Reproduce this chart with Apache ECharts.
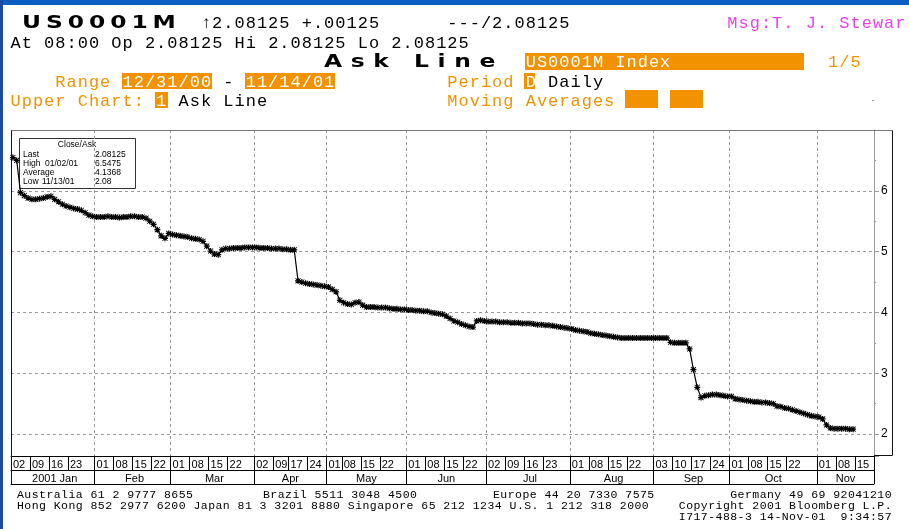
<!DOCTYPE html>
<html><head><meta charset="utf-8">
<script src="https://cdn.jsdelivr.net/npm/echarts@6/dist/echarts.min.js"></script>
<style>
html,body{margin:0;padding:0;background:#fff;}
#wrap{position:relative;width:909px;height:529px;overflow:hidden;background:#fff;}
#chart{position:absolute;left:0;top:0;width:909px;height:529px;}
.t{position:absolute;white-space:pre;font-family:'Liberation Mono',monospace;font-size:17px;letter-spacing:1px;line-height:18px;color:#000;}
.h{position:absolute;white-space:pre;font-family:'DejaVu Sans',sans-serif;font-weight:bold;font-size:18px;line-height:20px;color:#000;transform:scaleX(1.3);transform-origin:0 0;}
.b{position:absolute;background:#F39200;}
.f{position:absolute;white-space:pre;font-family:'Liberation Mono',monospace;font-size:11.5px;letter-spacing:0.45px;line-height:12px;color:#000;}
</style></head>
<body><div id="wrap"><div id="chart"></div></div>
<script>
// ---- calendar (London business days) ----
const firstDay = '2001-01-02';
const lastDay = '2001-11-21';
const holidays = ['2001-04-13','2001-04-16','2001-05-07','2001-05-28','2001-08-27'];
// ---- tick labels ----
const weekTicks = ['01/02/01','01/09/01','01/16/01','01/23/01',
  '02/01/01','02/08/01','02/15/01','02/22/01',
  '03/01/01','03/08/01','03/15/01','03/22/01',
  '04/02/01','04/09/01','04/17/01','04/24/01',
  '05/01/01','05/08/01','05/15/01','05/22/01',
  '06/01/01','06/08/01','06/15/01','06/22/01',
  '07/02/01','07/09/01','07/16/01','07/23/01',
  '08/01/01','08/08/01','08/15/01','08/22/01',
  '09/03/01','09/10/01','09/17/01','09/24/01',
  '10/01/01','10/08/01','10/15/01','10/22/01',
  '11/01/01','11/08/01','11/15/01'];
const monthNames = ['2001 Jan','Feb','Mar','Apr','May','Jun','Jul','Aug','Sep','Oct','Nov'];
const yLabels = [2,3,4,5,6];
// ---- series values (daily ask) ----
const askJan = [6.5475,6.50,5.97,5.92,5.88,5.86,5.86,5.87,5.88,5.90,5.91,5.86,5.82,5.78,5.75,5.73,5.71,5.70,5.68,5.64,5.60,5.58];
const askFeb = [5.57,5.57,5.57,5.58,5.57,5.57,5.56,5.57,5.57,5.58,5.58,5.57,5.57,5.55,5.50,5.45,5.36,5.26,5.22,5.30];
const askMar = [5.28,5.27,5.26,5.25,5.24,5.22,5.21,5.20,5.17,5.09,5.01,4.96,4.95,5.03,5.05,5.05,5.06,5.06,5.06,5.07,5.07,5.07];
const askApr = [5.07,5.06,5.06,5.06,5.05,5.05,5.05,5.04,5.04,5.03,5.03,4.52,4.50,4.48,4.47,4.46,4.45,4.44,4.43];
const askMay = [4.42,4.38,4.34,4.20,4.16,4.14,4.13,4.16,4.17,4.12,4.09,4.09,4.09,4.08,4.08,4.08,4.07,4.06,4.06,4.05,4.05];
const askJun = [4.04,4.04,4.03,4.03,4.02,4.02,4.00,3.99,3.98,3.97,3.94,3.90,3.86,3.84,3.81,3.79,3.77,3.76,3.86,3.87,3.86];
const askJul = [3.85,3.85,3.85,3.84,3.84,3.84,3.83,3.83,3.83,3.82,3.82,3.82,3.81,3.80,3.80,3.79,3.79,3.78,3.77,3.76,3.75,3.74];
const askAug = [3.73,3.71,3.70,3.69,3.68,3.66,3.65,3.64,3.63,3.62,3.61,3.60,3.59,3.58,3.58,3.58,3.58,3.58,3.58,3.58,3.58,3.58];
const askSep = [3.58,3.58,3.58,3.58,3.51,3.50,3.50,3.50,3.50,3.40,3.06,2.77,2.60,2.63,2.64,2.65,2.65,2.64,2.63,2.62];
const askOct = [2.62,2.58,2.57,2.56,2.55,2.54,2.53,2.53,2.52,2.52,2.51,2.50,2.46,2.45,2.43,2.42,2.40,2.38,2.36,2.34,2.32,2.30,2.29];
const askNov = [2.28,2.25,2.15,2.10,2.09,2.09,2.09,2.09,2.08,2.08125];
const askLine = [].concat(askJan,askFeb,askMar,askApr,askMay,askJun,askJul,askAug,askSep,askOct,askNov);

// build categories
function pad(n){return (n<10?'0':'')+n;}
const cats = [];
{
  let d = new Date(firstDay+'T00:00:00Z');
  const end = new Date(lastDay+'T00:00:00Z');
  while (d <= end) {
    const dow = d.getUTCDay();
    const iso = d.toISOString().slice(0,10);
    if (dow !== 0 && dow !== 6 && holidays.indexOf(iso) < 0) {
      cats.push(pad(d.getUTCMonth()+1)+'/'+pad(d.getUTCDate())+'/'+String(d.getUTCFullYear()).slice(2));
    }
    d = new Date(d.getTime()+86400000);
  }
}
const weekSet = new Set(weekTicks);
const monthStart = new Set();
const monthMid = {};
{
  let s = 0, m = 0;
  for (let i = 1; i <= cats.length; i++) {
    if (i === cats.length || cats[i].slice(0,2) !== cats[i-1].slice(0,2)) {
      monthStart.add(cats[s]);
      monthMid[Math.round((s + i - 1)/2)] = monthNames[m];
      m++; s = i;
    }
  }
}

// asterisk-like marker (plus + diagonal cross)
const star = 'path://M2.6,0h1.4v2.6h2.6v1.4h-2.6v2.6h-1.4v-2.6h-2.6v-1.4h2.6z' +
             'M0.9,0.2L3.3,2.6L5.7,0.2L6.4,0.9L4,3.3L6.4,5.7L5.7,6.4L3.3,4L0.9,6.4L0.2,5.7L2.6,3.3L0.2,0.9z';
const grayDash = {color:'#9a9a9a', width:1, type:[3,3]};

const chart = echarts.init(document.getElementById('chart'));
chart.setOption({
  animation:false,
  backgroundColor:'#fff',
  grid:{left:11,right:35,top:130,bottom:73,show:false},
  xAxis:[
    {type:'category',data:cats,boundaryGap:true,position:'bottom',
     axisLine:{show:true,lineStyle:{color:'#000',width:1}},
     axisTick:{show:true,length:14,interval:(i,v)=>weekSet.has(v),lineStyle:{color:'#000'}},
     axisLabel:{show:true,interval:(i,v)=>weekSet.has(v),formatter:v=>v.slice(3,5),align:'left',
       margin:3,fontSize:11,fontFamily:'Liberation Sans',color:'#000'},
     splitLine:{show:true,interval:(i,v)=>monthStart.has(v),lineStyle:grayDash}},
    {type:'category',data:cats,boundaryGap:true,position:'bottom',offset:14,
     axisLine:{show:true,lineStyle:{color:'#000',width:1}},
     axisTick:{show:true,length:14,interval:(i,v)=>monthStart.has(v),lineStyle:{color:'#000'}},
     axisLabel:{show:true,interval:(i)=>monthMid[i]!==undefined,formatter:(v,i)=>monthMid[i]||'',
       margin:3,fontSize:11,fontFamily:'Liberation Sans',color:'#000'},
     splitLine:{show:false}},
    {type:'category',data:cats,boundaryGap:true,position:'bottom',offset:28,
     axisLine:{show:true,lineStyle:{color:'#000',width:1}},
     axisTick:{show:false},axisLabel:{show:false},splitLine:{show:false}}
  ],
  yAxis:{type:'value',position:'right',min:1.64,max:7,
    axisLine:{show:true,lineStyle:{color:'#9a9a9a'}},
    axisTick:{show:true,length:5,lineStyle:{color:'#9a9a9a'}},
    minorTick:{show:true,splitNumber:2,length:2,lineStyle:{color:'#9a9a9a'}},
    axisLabel:{margin:7,fontSize:12,fontFamily:'Liberation Sans',color:'#000',
      formatter:v=>yLabels.indexOf(v)>=0?String(v):''},
    splitLine:{show:true,lineStyle:grayDash}},
  series:[{type:'line',name:'Ask',data:askLine,xAxisIndex:0,
    symbol:star,symbolSize:6,showSymbol:true,showAllSymbol:true,
    itemStyle:{color:'#000'},lineStyle:{color:'#000',width:1.2},z:5}],
  graphic:[
    {type:'polyline',silent:true,z:100,shape:{points:[[11.5,456],[11.5,130.5],[892.5,130.5]]},
     style:{fill:'none',stroke:'#777',lineWidth:1}},
    {type:'polyline',silent:true,z:100,shape:{points:[[892.5,130.5],[892.5,455.5],[874,455.5]]},
     style:{fill:'none',stroke:'#111',lineWidth:1}},
    {type:'polyline',silent:true,z:100,shape:{points:[[11.5,130.5],[11.5,484]]},
     style:{fill:'none',stroke:'#111',lineWidth:1}},
    {type:'group',x:19,y:138,z:110,children:[
      {type:'rect',shape:{x:0.5,y:0.5,width:116,height:50},style:{fill:'#fff',stroke:'#333',lineWidth:1}},
      {type:'text',x:58,y:7,style:{text:'Close/Ask',font:'8.5px "Liberation Sans"',fill:'#000',align:'center',verticalAlign:'middle'}},
      {type:'text',x:4,y:16.3,style:{text:'Last',font:'8.5px "Liberation Sans"',fill:'#000',verticalAlign:'middle'}},
      {type:'text',x:76,y:16.3,style:{text:'2.08125',font:'8.5px "Liberation Sans"',fill:'#000',verticalAlign:'middle'}},
      {type:'text',x:4,y:25.5,style:{text:'High',font:'8.5px "Liberation Sans"',fill:'#000',verticalAlign:'middle'}},
      {type:'text',x:26,y:25.5,style:{text:'01/02/01',font:'8.5px "Liberation Sans"',fill:'#000',verticalAlign:'middle'}},
      {type:'text',x:76,y:25.5,style:{text:'6.5475',font:'8.5px "Liberation Sans"',fill:'#000',verticalAlign:'middle'}},
      {type:'text',x:4,y:34.7,style:{text:'Average',font:'8.5px "Liberation Sans"',fill:'#000',verticalAlign:'middle'}},
      {type:'text',x:76,y:34.7,style:{text:'4.1368',font:'8.5px "Liberation Sans"',fill:'#000',verticalAlign:'middle'}},
      {type:'text',x:4,y:43.7,style:{text:'Low',font:'8.5px "Liberation Sans"',fill:'#000',verticalAlign:'middle'}},
      {type:'text',x:23,y:43.7,style:{text:'11/13/01',font:'8.5px "Liberation Sans"',fill:'#000',verticalAlign:'middle'}},
      {type:'text',x:76,y:43.7,style:{text:'2.08',font:'8.5px "Liberation Sans"',fill:'#000',verticalAlign:'middle'}}
    ]}
  ]
});

// ---- Bloomberg header / footer text ----
const wrap = document.getElementById('wrap');
const ORANGE = '#F39200', MAGENTA = '#EC40EC';
const CW = 11.2, X0 = 10.5;
function el(cls, css, text){const e=document.createElement('div'); e.className=cls; Object.assign(e.style,css); if(text!=null) e.textContent=text; wrap.appendChild(e); return e;}
function box(x,y,w,h,c){el('b',{left:x+'px',top:y+'px',width:w+'px',height:h+'px',background:c||ORANGE});}
function txt(col,base,s,color){return el('t',{left:(X0+col*CW)+'px',top:(base-13.5)+'px',color:color||'#000'},s);}
function head(x,base,s,ls){return el('h',{left:x+'px',top:(base-16.2)+'px',letterSpacing:ls+'px'},s);}
function foot(x,base,s,right){const css={top:(base-9.25)+'px'}; if(right){css.right=(909-x)+'px';css.textAlign='right';} else css.left=x+'px'; return el('f',css,s);}

// frame bars
box(0,0,909,5,'#0B5FC2');
box(0,0,3,529,'#1A4B9E');
// orange boxes
box(524.5,52.5,279,17.5);
box(121.5,72.7,90,16.6);
box(245,72.7,90,16.6);
box(523.5,72.7,11,16.6);
box(155,91.7,13,16.6);
box(625,90,33,18.3);
box(669.6,90,33,18.3);
box(872,100,2,1,'#999');

head(21.7,28.3,'US0001M',3.8);
txt(17,28.3,'\u21912.08125 +.00125');
txt(39,28.3,'---/2.08125');
txt(64,28.3,'Msg:T. J. Stewar',MAGENTA);
txt(0,48.3,'At 08:00 Op 2.08125 Hi 2.08125 Lo 2.08125');
head(324,67,'Ask Line',6.6);
txt(46,67.5,'US0001M Index','#fff');
txt(73,67.5,'1/5',ORANGE);
txt(4,87.3,'Range',ORANGE);
txt(10,87.3,'12/31/00','#fff');
txt(19,87.3,'-');
txt(21,87.3,'11/14/01','#fff');
txt(39,87.3,'Period',ORANGE);
txt(46,87.3,'D','#fff');
txt(48,87.3,'Daily');
txt(0,106.7,'Upper Chart:',ORANGE);
txt(13,106.7,'1','#fff');
txt(15,106.7,'Ask Line');
txt(39,106.7,'Moving Averages',ORANGE);

foot(17,498.5,'Australia 61 2 9777 8655');
foot(263,498.5,'Brazil 5511 3048 4500');
foot(493,498.5,'Europe 44 20 7330 7575');
foot(892,498.5,'Germany 49 69 92041210',true);
foot(17,509.5,'Hong Kong 852 2977 6200 Japan 81 3 3201 8880 Singapore 65 212 1234 U.S. 1 212 318 2000');
foot(892,509.5,'Copyright 2001 Bloomberg L.P.',true);
foot(892,520.5,'I717-488-3 14-Nov-01  9:34:57',true);
</script>
</body></html>
